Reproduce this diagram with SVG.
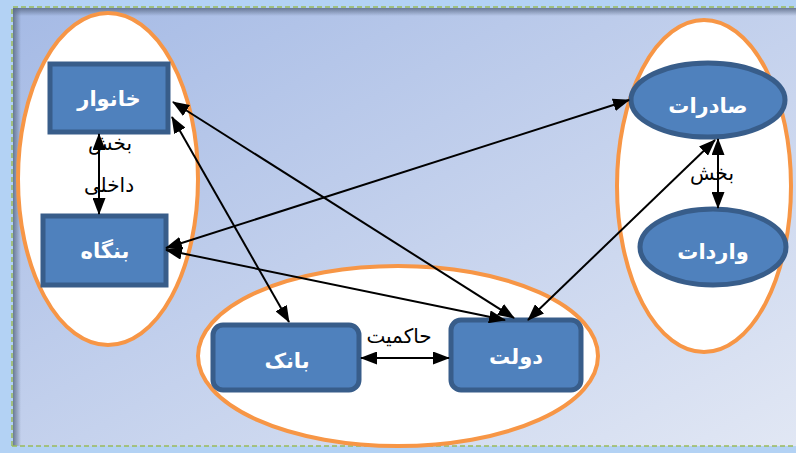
<svg xmlns="http://www.w3.org/2000/svg" width="796" height="453" viewBox="0 0 796 453">
  <defs>
    <linearGradient id="panelFill" x1="0" y1="0" x2="1" y2="1">
      <stop offset="0" stop-color="#a5bae5"/>
      <stop offset="1" stop-color="#e1e7f4"/>
    </linearGradient>
    <linearGradient id="shadowTop" x1="0" y1="0" x2="0" y2="1">
      <stop offset="0" stop-color="#5a6a86" stop-opacity="0.85"/>
      <stop offset="1" stop-color="#5a6a86" stop-opacity="0"/>
    </linearGradient>
    <linearGradient id="shadowLeft" x1="0" y1="0" x2="1" y2="0">
      <stop offset="0" stop-color="#5a6a86" stop-opacity="0.85"/>
      <stop offset="1" stop-color="#5a6a86" stop-opacity="0"/>
    </linearGradient>
    <marker id="head" markerUnits="userSpaceOnUse" markerWidth="17" markerHeight="13" refX="16" refY="6.5" orient="auto-start-reverse" viewBox="0 0 17 13">
      <path d="M0,0 L17,6.5 L0,13 z" fill="#000"/>
    </marker>
  </defs>
  <style>
    .group { fill: #ffffff; stroke: #f79646; stroke-width: 4; }
    .box { fill: #4f81bd; stroke: #385d8a; stroke-width: 5; }
    .name { font-family: "DejaVu Sans", sans-serif; font-size: 21px; font-weight: bold; fill: #ffffff; text-anchor: middle; }
    .note { font-family: "DejaVu Sans", sans-serif; font-size: 20px; fill: #000000; text-anchor: middle; }
    .link { stroke: #000; stroke-width: 2; fill: none; marker-start: url(#head); marker-end: url(#head); }
  </style>

  <!-- frame and panel -->
  <rect x="0" y="0" width="796" height="453" fill="#b3d2f4"/>
  <rect x="13" y="8" width="783" height="438" fill="url(#panelFill)"/>
  <rect x="13" y="8" width="783" height="8" fill="url(#shadowTop)"/>
  <rect x="13" y="8" width="8" height="438" fill="url(#shadowLeft)"/>
  <path d="M12,446 L12,7 L796,7 M12,446 L796,446" fill="none" stroke="#9bbb59" stroke-width="1.5" stroke-dasharray="5,3"/>

  <!-- sector groupings -->
  <ellipse class="group" cx="108" cy="179" rx="90" ry="166"/>
  <ellipse class="group" cx="704" cy="186" rx="87" ry="166"/>
  <ellipse class="group" cx="398" cy="356" rx="200" ry="90"/>

  <!-- connector labels (the upper word sits partly under the box above it) -->
  <g id="labels">
    <text class="note" x="110" y="150">بخش</text>
    <text class="note" x="109" y="192">داخلی</text>
    <text class="note" x="712" y="180">بخش</text>
    <text class="note" x="399" y="343">حاکمیت</text>
  </g>

  <g id="node-household">
    <rect class="box" x="50" y="64" width="118" height="68"/>
    <text class="name" x="109" y="106">خانوار</text>
  </g>
  <g id="node-firm">
    <rect class="box" x="43" y="216" width="123" height="69"/>
    <text class="name" x="105" y="258">بنگاه</text>
  </g>
  <g id="node-bank">
    <rect class="box" x="213" y="325" width="146" height="65" rx="10"/>
    <text class="name" x="287" y="368">بانک</text>
  </g>
  <g id="node-government">
    <rect class="box" x="451" y="320" width="130" height="70" rx="10"/>
    <text class="name" x="516" y="364">دولت</text>
  </g>
  <g id="node-exports">
    <ellipse class="box" cx="708" cy="100" rx="77" ry="37"/>
    <text class="name" x="708" y="113">صادرات</text>
  </g>
  <g id="node-imports">
    <ellipse class="box" cx="713" cy="247" rx="73" ry="38"/>
    <text class="name" x="713" y="259">واردات</text>
  </g>

  <g id="connectors">
    <line class="link" x1="99" y1="134" x2="99" y2="214"/>
    <line class="link" x1="718" y1="139" x2="718" y2="208"/>
    <line class="link" x1="361" y1="358" x2="449" y2="358"/>
    <line class="link" x1="173" y1="102" x2="514" y2="318"/>
    <line class="link" x1="172" y1="117" x2="289" y2="322"/>
    <line class="link" x1="166" y1="248" x2="629" y2="100"/>
    <line class="link" x1="166" y1="250" x2="505" y2="320"/>
    <line class="link" x1="528" y1="320" x2="715" y2="140"/>
  </g>
</svg>
